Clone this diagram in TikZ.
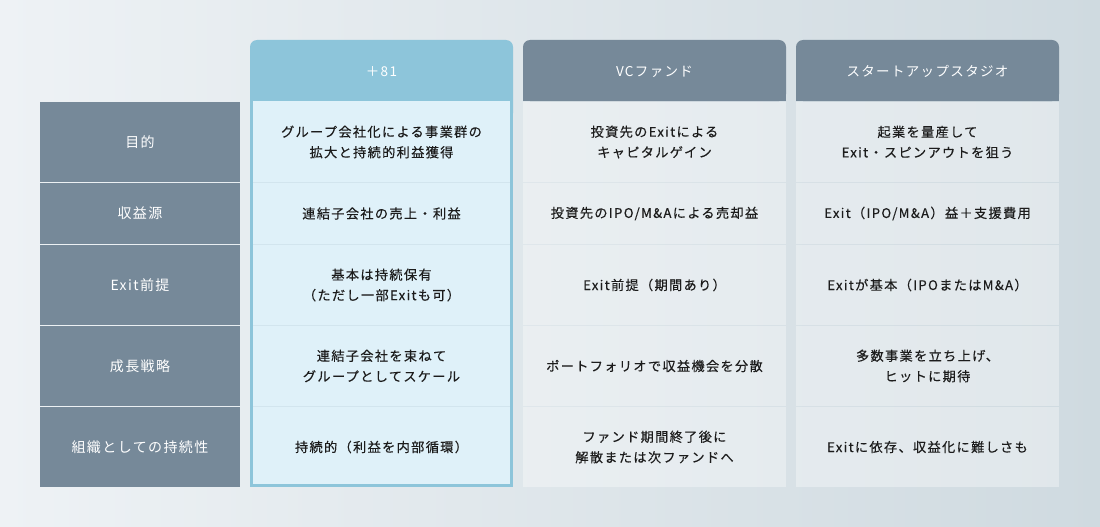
\documentclass[tikz,border=0pt]{standalone}
\usepackage{fontspec}
\setmainfont{Noto Sans CJK JP}[LetterSpace=10]
\newfontfamily\cellfont{Noto Sans CJK JP}[LetterSpace=10, FakeBold=0.3]
\definecolor{bgleft}{HTML}{EEF2F5}
\definecolor{bgright}{HTML}{CFDAE0}
\definecolor{slate}{HTML}{768999}
\definecolor{skyhead}{HTML}{8DC5DA}
\definecolor{skybody}{HTML}{DFF1F9}
\definecolor{skyline}{HTML}{D2E5EE}
\definecolor{inktext}{HTML}{1C1C1C}
\tikzset{
  labelcell/.style={fill=slate, text=white, minimum width=200pt, inner sep=0pt, font=\fontsize{14}{20}\selectfont},
  bodycell/.style={minimum width=263pt, inner sep=0pt, align=center, text=inktext, font=\cellfont\fontsize{13.2}{20.5}\selectfont},
  glasscell/.style={bodycell, fill=white, fill opacity=0.35, text opacity=1},
  headtext/.style={text=white, font=\fontsize{13.5}{20}\selectfont}
}

\begin{document}
\begin{tikzpicture}[x=1pt,y=-1pt]
            \useasboundingbox (0,0) rectangle (1100,527);
            \shade[left color=bgleft, right color=bgright] (0,0) rectangle (1100,527);
            % +81 column
            \fill[skyhead, rounded corners=7pt] (250,40) rectangle (513,120);
            \fill[skyhead] (250,100) rectangle (513,487);
            \fill[skybody] (253,101) rectangle (510,484);
            \foreach \y in {182.5,244.5,325.5,406.5}{
                \draw[skyline, line width=1pt] (253,\y)--(510,\y);
            }
            % grey heads
            \foreach \x in {523,796}{
                \fill[slate, rounded corners=7pt] (\x,40) rectangle (\x+263,101);
                \fill[slate] (\x,90) rectangle (\x+263,101);
            }
            \node[headtext] (hdplus) at (381.5,71.5) {＋81};
            \node[headtext] (hdvc) at (654.5,71.5) {VCファンド};
            \node[headtext] (hdstudio) at (927.5,71.5) {スタートアップスタジオ};
            % rows
            \foreach \i/\yc/\h/\lab/\pl/\vc/\st in {
                1/142/80/{目的}/{グループ会社化による事業群の\\拡大と持続的利益獲得}/{投資先のExitによる\\キャピタルゲイン}/{起業を量産して\\Exit・スピンアウトを狙う},
                2/213.5/61/{収益源}/{連結子会社の売上・利益}/{投資先のIPO/M\&Aによる売却益}/{Exit（IPO/M\&A）益＋支援費用},
                3/285/80/{Exit前提}/{基本は持続保有\\（ただし一部Exitも可）}/{Exit前提（期間あり）}/{Exitが基本（IPOまたはM\&A）},
                4/366/80/{成長戦略}/{連結子会社を束ねて\\グループとしてスケール}/{ポートフォリオで収益機会を分散}/{多数事業を立ち上げ、\\ヒットに期待},
                5/447/80/{組織としての持続性}/{持続的（利益を内部循環）}/{ファンド期間終了後に\\解散または次ファンドへ}/{Exitに依存、収益化に難しさも}}{
                \node[labelcell, minimum height=\h pt] (lab\i) at (140,\yc) {\lab};
                \node[bodycell, minimum height=\h pt] (pl\i) at (381.5,\yc) {\pl};
                \node[glasscell, minimum height=\h pt] (vc\i) at (654.5,\yc) {\vc};
                \node[glasscell, minimum height=\h pt] (st\i) at (927.5,\yc) {\st};
            }
\end{tikzpicture}
\end{document}
